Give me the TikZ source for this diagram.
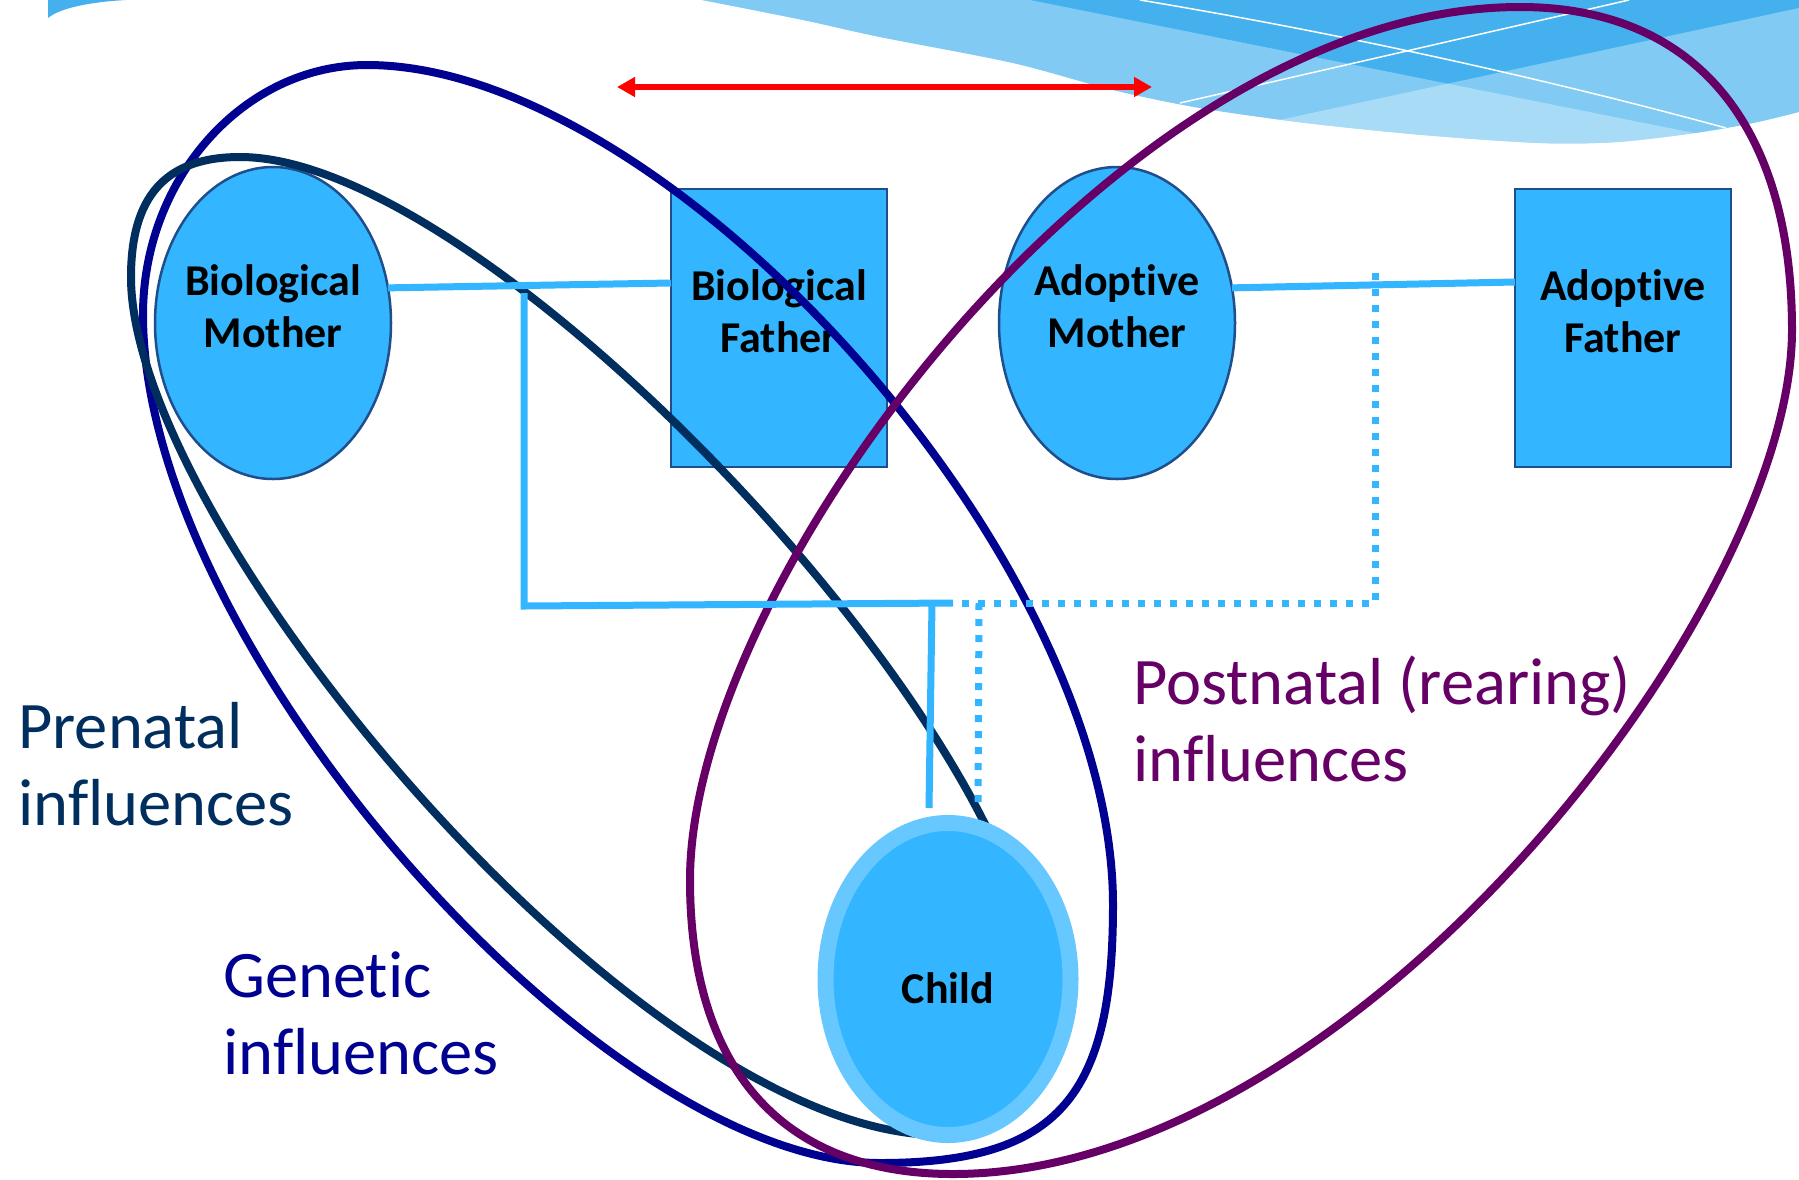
\documentclass[tikz,border=0pt]{standalone}
\usepackage{fontspec}
\setmainfont{Carlito}[Ligatures=NoCommon]
\usetikzlibrary{arrows.meta,calc,shapes.geometric}
\definecolor{nodeblue}{RGB}{51,181,255}
\definecolor{ringblue}{RGB}{102,200,255}
\definecolor{nodeedge}{RGB}{31,78,140}
\definecolor{linkblue}{RGB}{51,181,255}
\definecolor{geneticc}{RGB}{0,0,145}
\definecolor{prenatalc}{RGB}{0,46,94}
\definecolor{postnatalc}{RGB}{102,0,102}
\definecolor{bannerdark}{RGB}{68,177,238}
\begin{document}
\begin{tikzpicture}[x=1pt,y=-1pt,
  person/.style={draw=nodeedge, line width=2.5pt, fill=nodeblue, inner sep=0pt, outer sep=0pt},
  femalebox/.style={person, ellipse, minimum width=236pt, minimum height=312pt},
  malebox/.style={person, rectangle, minimum width=216pt, minimum height=278pt},
  childbox/.style={ellipse, fill=nodeblue, draw=ringblue, line width=16pt, minimum width=245pt, minimum height=312pt, inner sep=0pt, outer sep=0pt},
  nametext/.style={font=\bfseries\fontsize{44}{52}\selectfont, text=black, inner sep=0pt, anchor=base},
  labeltext/.style={font=\fontsize{66.5}{77}\selectfont, inner sep=0pt, anchor=base west},
  link/.style={draw=linkblue, line width=7pt, line join=miter},
  dotlink/.style={draw=linkblue, line width=7pt, dash pattern=on 7pt off 9pt},
  loop/.style={line width=8pt},
  redarrow/.style={draw=red, line width=6pt, {Triangle[length=18pt,width=19pt]}-{Triangle[length=18pt,width=19pt]}}
]
\useasboundingbox (0,0) rectangle (1799,1179);
\fill[white] (0,0) rectangle (1799,1179);

% header swoosh, upper right
\begin{scope}
  \path[clip] (1799,0) -- (702,0) -- plot[smooth] coordinates {(702,0) (803,20) (880,37) (1013,63) (1113,90) (1200,108) (1306,123) (1423,135) (1540,143) (1617,142) (1695,133) (1753,123) (1799,112)} -- cycle;
  \fill[bannerdark] (600,0) rectangle (1799,200);
  \fill[white, fill opacity=0.32] (1030,0) -- (1799,154) -- (1799,300) -- (600,300) -- (600,0) -- cycle;
  \fill[white, fill opacity=0.32] (1100,158.6) -- (1799,8) -- (1799,300) -- (1100,300) -- cycle;
  \draw[white, line width=1.5pt] (1140,0) .. controls (1350,35) and (1550,80) .. (1726,128);
  \draw[white, line width=1.5pt] (1180,103) -- (1629,0);
\end{scope}
% header swoosh tip, upper left
\fill[bannerdark] (48,0) -- (48,18) .. controls (60,8) and (90,2) .. (126,0) -- cycle;

% family members
\node[femalebox] (BM) at (273,323) {};
\node[malebox]   (BF) at (779,328) {};
\node[femalebox] (AM) at (1117,323) {};
\node[malebox]   (AF) at (1623,328) {};
\node[nametext] (BMtext) at ($(BM.center)+(0,-28)$) {\begin{tabular}[t]{@{}c@{}}Biological\\Mother\end{tabular}};
\node[nametext] (BFtext) at ($(BF.center)+(0,-28)$) {\begin{tabular}[t]{@{}c@{}}Biological\\Father\end{tabular}};
\node[nametext] (AMtext) at ($(AM.center)+(0,-28)$) {\begin{tabular}[t]{@{}c@{}}Adoptive\\Mother\end{tabular}};
\node[nametext] (AFtext) at ($(AF.center)+(0,-28)$) {\begin{tabular}[t]{@{}c@{}}Adoptive\\Father\end{tabular}};

% influence loops
\draw[loop, geneticc]
  (367,65) .. controls (667,65) and (1113,555) .. (1113,905)
  .. controls (1113,1095) and (1060,1163) .. (880,1163)
  .. controls (600,1163) and (143,645) .. (143,315)
  .. controls (143,178) and (244,65) .. (367,65) -- cycle;
\draw[loop, prenatalc]
  (240,157) .. controls (490,157) and (1035,740) .. (1035,990)
  .. controls (1035,1050) and (990,1135) .. (940,1135)
  .. controls (640,1135) and (131,527) .. (131,277)
  .. controls (131,197) and (165,157) .. (240,157) -- cycle;
\draw[loop, postnatalc]
  (1520,7) .. controls (1695,7) and (1792,125) .. (1792,330)
  .. controls (1792,610) and (1353,1174) .. (953,1174)
  .. controls (783,1174) and (690,1070) .. (690,880)
  .. controls (690,580) and (1120,7) .. (1520,7) -- cycle;

% family links
\coordinate (bioDrop) at (524,293);
\coordinate (bioCorner) at (524,606);
\coordinate (bioJoin) at (953,603);
\coordinate (childLink) at (932,603);
\coordinate (adoptDrop) at (1375,273);
\coordinate (adoptCorner) at (1375,603);
\coordinate (adoptJoin) at (958,603);
\coordinate (adoptTee) at (979,603);

\node[childbox] (CH) at (948,979) {};
\node[nametext] (CHtext) at ($(CH.center)+(0,24)$) {Child};

\draw[link] (BM.17) -- ($(BF.west)+(0,-45)$);
\draw[link] (AM.17) -- ($(AF.west)+(0,-46)$);
\draw[link] (bioDrop) -- (bioCorner) -- (bioJoin);
\draw[link] (childLink) -- ($(CH.north)+(-19,-15)$);
\draw[dotlink] (adoptDrop) -- (adoptCorner) -- (adoptJoin);
\draw[dotlink] (adoptTee) -- ($(CH.north)+(30,-20)$);

% labels
\node[labeltext, text=prenatalc] (prelabel) at (18,748) {\begin{tabular}[t]{@{}l@{}}Prenatal\\influences\end{tabular}};
\node[labeltext, text=geneticc] (genlabel) at (223,997) {\begin{tabular}[t]{@{}l@{}}Genetic\\influences\end{tabular}};
\node[labeltext, text=postnatalc] (postlabel) at (1133,704) {\begin{tabular}[t]{@{}l@{}}Postnatal (rearing)\\influences\end{tabular}};

% contrast arrow
\coordinate (arrowL) at (617,87);
\coordinate (arrowR) at (1152,87);
\draw[redarrow] (arrowL) -- (arrowR);
\end{tikzpicture}
\end{document}
